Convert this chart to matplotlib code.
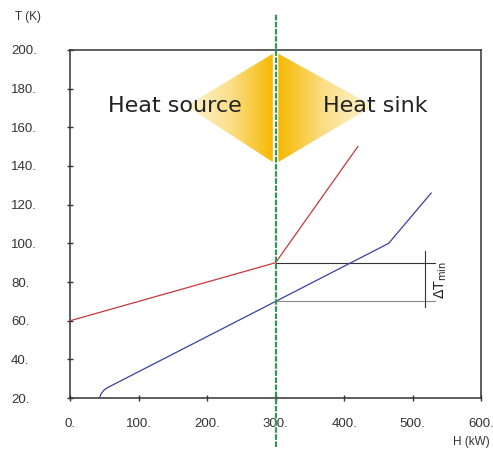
import matplotlib
matplotlib.use('Agg')
import matplotlib.pyplot as plt
import numpy as np
from matplotlib.colors import LinearSegmentedColormap
from matplotlib.patches import Polygon

# hot stream (heat source) and cold stream (heat sink) composite curves
hot_H = [0, 300, 420]
hot_T = [60, 90, 150]
cold_H = [43, 45, 49, 55, 300, 465, 527]
cold_T = [20, 22, 24, 25.5, 70, 100, 126]

pinch_H = 300
x_ticks = [0, 100, 200, 300, 400, 500, 600]
y_ticks = [20, 40, 60, 80, 100, 120, 140, 160, 180, 200]
x_labels = ['0.', '100.', '200.', '300.', '400.', '500.', '600.']
y_labels = ['20.', '40.', '60.', '80.', '100.', '120.', '140.', '160.', '180.', '200.']

plt.rcParams['font.family'] = ['Liberation Sans', 'DejaVu Sans']

fig = plt.figure(figsize=(4.93, 4.53), dpi=100)
ax = fig.add_axes([0.142, 0.121, 0.834, 0.769])

# gradient diamond halves
cmap = LinearSegmentedColormap.from_list('heat', ['#fdf3d2', '#fbdf8a', '#f6b800'])
grad = np.linspace(0, 1, 256).reshape(1, -1)
left_tri = Polygon([[296, 198], [170, 171], [296, 142]], closed=True, transform=ax.transData)
im = ax.imshow(grad, cmap=cmap, extent=[170, 296, 142, 198], aspect='auto', zorder=1)
im.set_clip_path(left_tri)
right_tri = Polygon([[304, 198], [442, 171], [304, 142]], closed=True, transform=ax.transData)
im2 = ax.imshow(grad[:, ::-1], cmap=cmap, extent=[304, 442, 142, 198], aspect='auto', zorder=1)
im2.set_clip_path(right_tri)
ax.set_xlim(0, 600)
ax.set_ylim(20, 200)

ax.text(153, 171, 'Heat source', fontsize=16, ha='center', va='center',
        family=['DejaVu Sans'], color='#222222', zorder=3)
ax.text(445, 171, 'Heat sink', fontsize=16, ha='center', va='center',
        family=['DejaVu Sans'], color='#222222', zorder=3)

ax.plot(hot_H, hot_T, color='#c8383a', lw=0.9, zorder=4)
ax.plot(cold_H, cold_T, color='#3a40a0', lw=0.9, zorder=4)

# delta T min dimension lines
ax.plot([300, 532], [90, 90], color='#333333', lw=0.8, zorder=3)
ax.plot([300, 532], [70, 70], color='#888888', lw=0.8, zorder=3)
ax.plot([518, 518], [96, 67], color='#333333', lw=0.8, zorder=3)
ax.text(541, 81, r'$\mathrm{\Delta T}_{\mathrm{min}}$', rotation=90, fontsize=10,
        ha='center', va='center', color='#222222')

ax.axvline(pinch_H, ymin=-0.141, ymax=1.103, clip_on=False, color='#2f9a55',
           lw=1.6, linestyle=(0, (2.5, 0.7)), zorder=5)

for s in ax.spines.values():
    s.set_color('#333333')
    s.set_linewidth(1.1)

ax.set_xticks(x_ticks)
ax.set_xticklabels(x_labels)
ax.set_yticks(y_ticks)
ax.set_yticklabels(y_labels)
ax.tick_params(axis='both', direction='inout', length=5, width=1, color='#333333',
               labelsize=9.5, labelcolor='#333333')
ax.tick_params(axis='x', pad=12)
ax.tick_params(axis='y', pad=40)
for lab in ax.get_yticklabels():
    lab.set_horizontalalignment('left')

fig.text(0.057, 0.962, 'T (K)', fontsize=8.5, ha='center', va='center', color='#333333')
fig.text(0.957, 0.025, 'H (kW)', fontsize=8.5, ha='center', va='center', color='#333333')

fig.savefig('out.png', dpi=100)
